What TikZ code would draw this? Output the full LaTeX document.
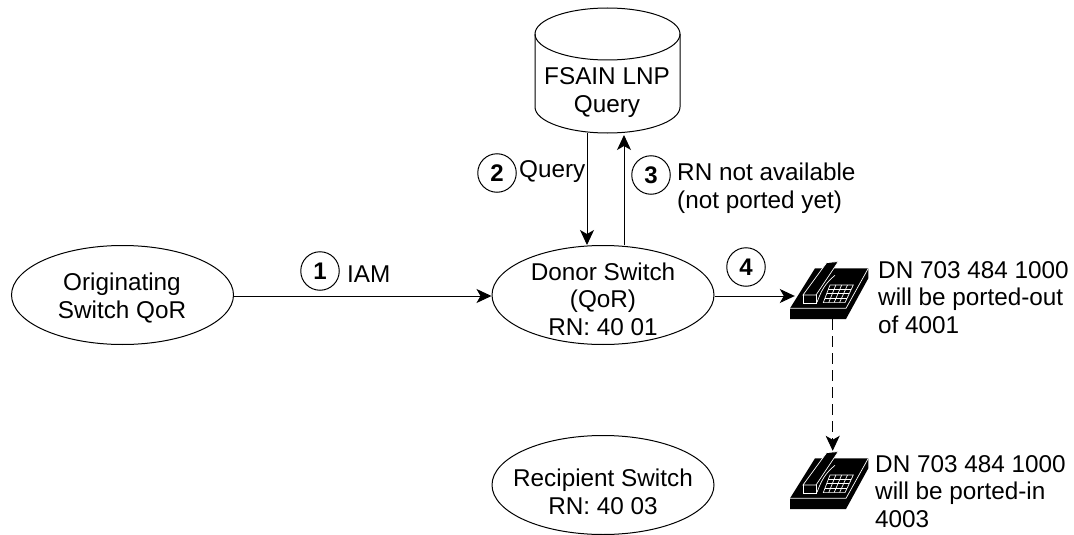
\documentclass[tikz,border=0pt]{standalone}
\usepackage{fontspec}
\setmainfont{Liberation Sans}
\usetikzlibrary{arrows.meta,shapes.geometric,calc}
\tikzset{
    switch/.style={draw, line width=1pt, ellipse, minimum width=222pt, minimum height=99pt, inner sep=0pt},
    step number/.style={draw, line width=1pt, circle, minimum size=38.5pt, inner sep=0pt, font=\fontsize{24}{24}\selectfont\bfseries},
    label text/.style={inner sep=0pt, align=left, font=\fontsize{24.3}{27.5}\selectfont},
    centre text/.style={label text, align=center},
    link/.style={line width=1pt, -{Stealth[length=15pt,width=14pt,inset=4pt]}},
    phone mark/.style={minimum width=70pt, minimum height=58pt, inner sep=0pt},
    pics/telephone/.style={code={
        \fill[black] (-40,15) -- (-15,-25) -- (38.3,-25) -- (38.3,-15) -- (16,25.7) -- (-40,25.7) -- cycle;
        \draw[white, line width=0.7pt] (-40,15) -- (16,15) -- (38.3,-25);
        \filldraw[black, draw=white, line width=0.7pt] (-27,1.7) -- (-3.3,-30.7) -- (8.3,-31.7) -- (-14,1.7) -- cycle;
        \draw[white, line width=0.7pt] (-27,1.7) -- (-27,10.5) -- (-14,10.5) -- (-14,1.7);
        \draw[white, line width=0.7pt] (5,-18) .. controls (-5,-10) and (-9,-2) .. (-13,9);
        \filldraw[black, draw=white, line width=0.7pt] (-6.7,9.3) -- (0,-8.3) -- (23.3,-8.3) -- (15,9.3) -- cycle;
        \foreach \t in {0.25,0.5,0.75} {
            \draw[white, line width=0.7pt] ($(-6.7,9.3)!\t!(15,9.3)$) -- ($(0,-8.3)!\t!(23.3,-8.3)$);
        }
        \draw[white, line width=0.7pt] (-1.8,-3.9) -- (21.2,-3.9);
        \draw[white, line width=0.7pt] (-3.4,0.5) -- (19.1,0.5);
        \draw[white, line width=0.7pt] (-5,4.9) -- (17,4.9);
    }},
}
\begin{document}
\begin{tikzpicture}[x=1pt, y=-1pt]
\useasboundingbox (0,0) rectangle (1074,535);

\node[switch] (originating) at (122.5,295) {};
\node[switch] (donor) at (603,295) {};
\node[switch] (recipient) at (603,485) {};
\node[centre text] (originatingtext) at (122,298) {Originating\\Switch QoR};
\node[centre text] (donortext) at (603,299) {Donor Switch\\(QoR)\\RN: 40 01};
\node[centre text] (recipienttext) at (603,492) {Recipient Switch\\RN: 40 03};

% database
\draw[line width=1pt] (535,34) arc[start angle=180, end angle=-180, x radius=72.5pt, y radius=26pt];
\draw[line width=1pt] (535,34) -- (535,107) arc[start angle=180, end angle=360, x radius=72.5pt, y radius=26pt] -- (680,34);
\node[centre text, font=\fontsize{24.3}{28}\selectfont] (fsain) at (607,93) {FSAIN LNP\\Query};
\coordinate (queryout) at (587,133);
\coordinate (queryback) at (624,135);

\node[phone mark] (phoneout) at (830,290) {};
\node[phone mark] (phonein) at (830,480) {};
\pic[yshift=-3.3pt] at (phoneout) {telephone};
\pic[yshift=-3.3pt] at (phonein) {telephone};

\node[step number] (one) at (320,271) {1};
\node[step number] (two) at (497,173) {2};
\node[step number] (three) at (651,175) {3};
\node[step number] (four) at (746,267) {4};

\node[label text, anchor=west] (iam) at (347,274) {IAM};
\node[label text, anchor=west] (query) at (519,172) {Query};
\node[label text, anchor=north west] (notavail) at (677,163) {RN not available\\(not ported yet)};
\node[label text, anchor=north west] (dnout) at (878,261) {DN 703 484 1000\\will be ported-out\\of 4001};
\node[label text, anchor=north west] (dnin) at (875,455) {DN 703 484 1000\\will be ported-in\\4003};

\draw[link] (originating.east |- 0,296) -- (donor.west |- 0,296);
\draw[link] (queryout) -- (queryout |- donor.north);
\draw[link] (queryback |- donor.north) -- (queryback);
\draw[link] (donor.east |- 0,296) -- (phoneout.west |- 0,296);
\draw[link, dash pattern=on 11pt off 6pt] ([xshift=2.7pt]phoneout.south) -- ([xshift=2.7pt]phonein.north);
\end{tikzpicture}
\end{document}
